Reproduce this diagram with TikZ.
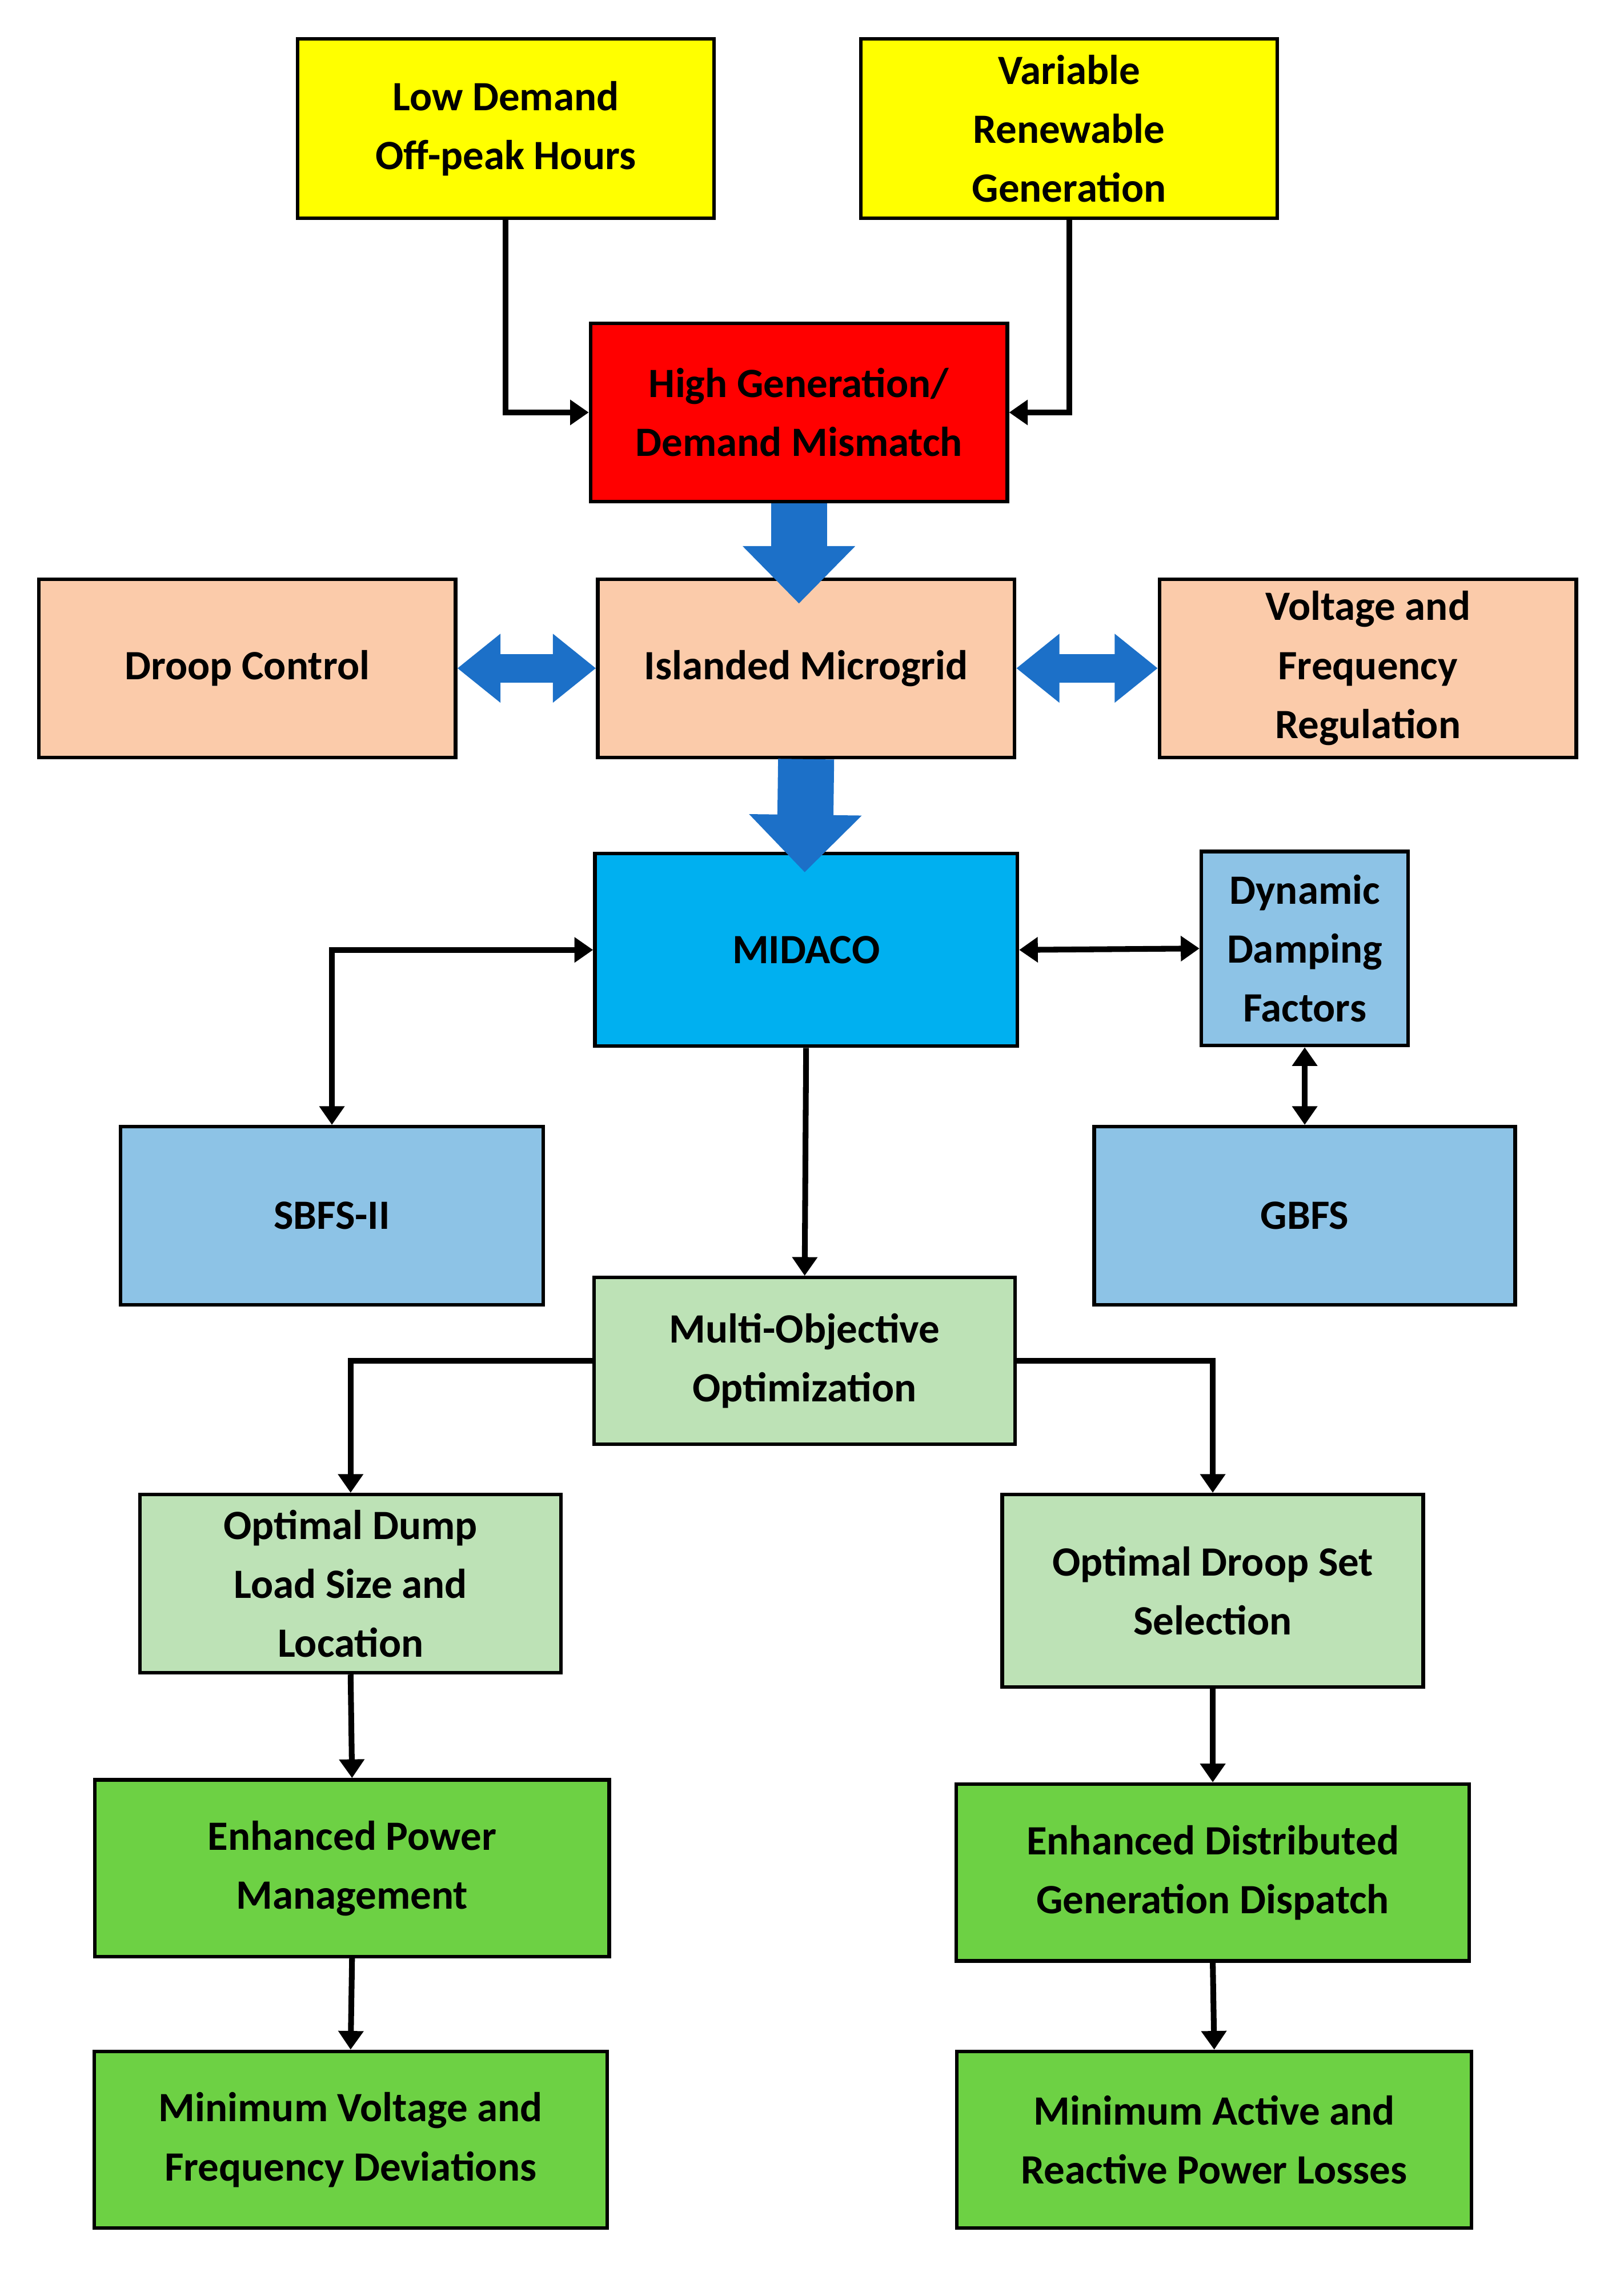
\documentclass[tikz,border=0pt]{standalone}
\usepackage{fontspec}
\setmainfont{Carlito}
\usetikzlibrary{arrows.meta}
\definecolor{yel}{HTML}{FFFF00}
\definecolor{redb}{HTML}{FF0000}
\definecolor{peach}{HTML}{FBCBAA}
\definecolor{midaco}{HTML}{00B0F0}
\definecolor{lblue}{HTML}{8DC3E6}
\definecolor{lgreen}{HTML}{BDE2B6}
\definecolor{green}{HTML}{6DD144}
\definecolor{barrow}{HTML}{1C70C8}
\begin{document}
\begin{tikzpicture}[x=1pt,y=-1pt,
 box/.style={draw=black,line width=2.5pt,align=center,inner sep=0pt,font=\fontsize{29}{41}\selectfont\bfseries},
 con/.style={line width=4pt,-{Triangle[width=17pt,length=13pt]}},
 dcon/.style={line width=4pt,{Triangle[width=17pt,length=13pt]}-{Triangle[width=17pt,length=13pt]}},
 bigb/.style={barrow,line width=39pt,-{Triangle[width=76pt,length=40pt]}},
 hb/.style={barrow,line width=20pt,{Triangle[width=46pt,length=30pt]}-{Triangle[width=46pt,length=30pt]}}]
\useasboundingbox (0,0) rectangle (1130,1581);
\node[box,fill=yel,minimum width=290pt,minimum height=125pt] (ld) at (352,89.5) {Low Demand\\Off-peak Hours};
\node[box,fill=yel,minimum width=290pt,minimum height=125pt] (vr) at (744,89.5) {Variable\\Renewable\\Generation};
\node[box,fill=redb,minimum width=290pt,minimum height=124pt] (hg) at (556,287) {High Generation/\\Demand Mismatch};
\node[box,fill=peach,minimum width=290pt,minimum height=124pt] (dc) at (172,465) {Droop Control};
\node[box,fill=peach,minimum width=290pt,minimum height=124pt] (im) at (561,465) {Islanded Microgrid};
\node[box,fill=peach,minimum width=290pt,minimum height=124pt] (vf) at (952,465) {Voltage and\\Frequency\\Regulation};
\node[box,fill=midaco,minimum width=294pt,minimum height=134pt] (md) at (561,661) {MIDACO};
\node[box,fill=lblue,minimum width=144pt,minimum height=135pt] (dd) at (908,660) {Dynamic\\Damping\\Factors};
\node[box,fill=lblue,minimum width=294pt,minimum height=124pt] (sb) at (231,846) {SBFS-II};
\node[box,fill=lblue,minimum width=293pt,minimum height=124pt] (gb) at (908,846) {GBFS};
\node[box,fill=lgreen,minimum width=293pt,minimum height=116pt] (mo) at (560,947) {Multi-Objective\\Optimization};
\node[box,fill=lgreen,minimum width=293pt,minimum height=124pt] (od) at (244,1102) {Optimal Dump\\Load Size and\\Location};
\node[box,fill=lgreen,minimum width=293pt,minimum height=134pt] (os) at (844,1107) {Optimal Droop Set\\Selection};
\node[box,fill=green,minimum width=358pt,minimum height=123pt] (ep) at (245,1300) {Enhanced Power\\Management};
\node[box,fill=green,minimum width=357pt,minimum height=123pt] (eg) at (844,1303) {Enhanced Distributed\\Generation Dispatch};
\node[box,fill=green,minimum width=357pt,minimum height=123pt] (mv) at (244,1489) {Minimum Voltage and\\Frequency Deviations};
\node[box,fill=green,minimum width=358pt,minimum height=123pt] (ma) at (845,1489) {Minimum Active and\\Reactive Power Losses};
\draw[con] (ld.south) |- (hg.west);
\draw[con] (vr.south) |- (hg.east);
\draw[dcon] (md.west) -| (sb.north);
\draw[dcon] (md.east) -- (dd.west);
\draw[dcon] (dd.south) -- (gb.north);
\draw[con] (md.south) -- (mo.north);
\draw[con] (mo.west) -| (od.north);
\draw[con] (mo.east) -| (os.north);
\draw[con] (od.south) -- (ep.north);
\draw[con] (ep.south) -- (mv.north);
\draw[con] (os.south) -- (eg.north);
\draw[con] (eg.south) -- (ma.north);
\coordinate (t1) at (556,420);
\coordinate (t2) at (560,607);
\draw[bigb] (hg.south) -- (t1);
\draw[bigb] (im.south) -- (t2);
\draw[hb] (dc.east) -- (im.west);
\draw[hb] (im.east) -- (vf.west);
\end{tikzpicture}
\end{document}
